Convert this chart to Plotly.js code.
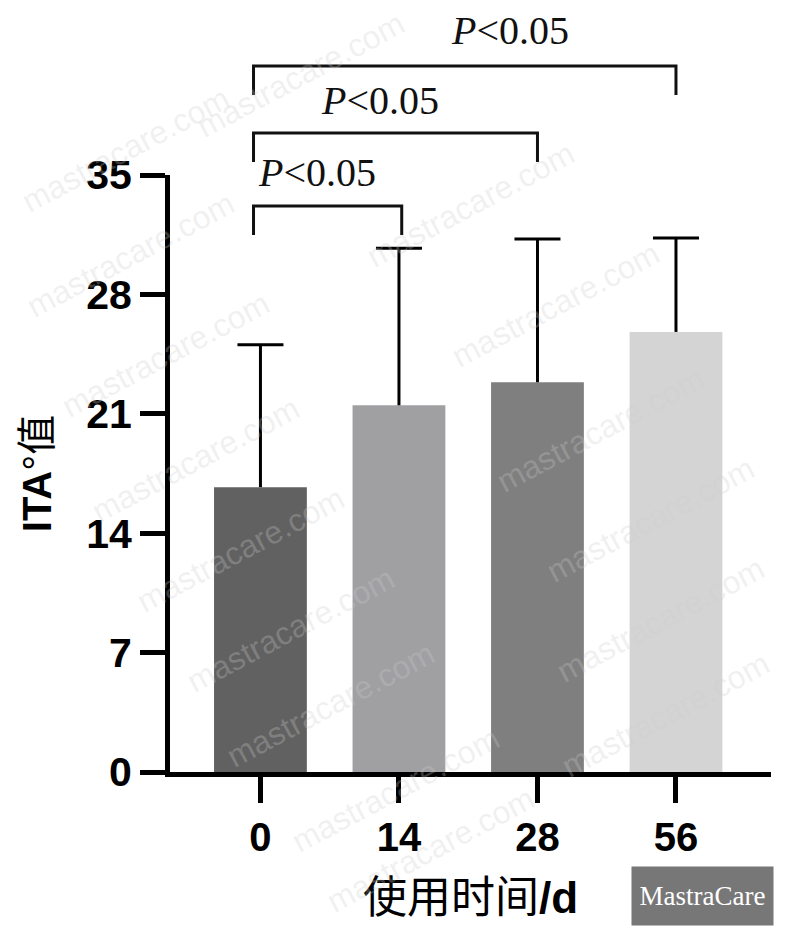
<!DOCTYPE html>
<html>
<head>
<meta charset="utf-8">
<script src="https://cdn.plot.ly/plotly-3.0.1.min.js"></script>
<style>
  html, body { margin: 0; padding: 0; background: #ffffff; }
  #chart { width: 788px; height: 940px; }
</style>
</head>
<body>
<div id="chart"></div>
<script>
// ITA° value by days of use (mean + SD)
const days = ['0', '14', '28', '56'];
const itaMean = [16.7, 21.5, 22.85, 25.8];
const itaSD = [8.35, 9.2, 8.4, 5.5];
const barColors = ['#616161', '#a0a0a3', '#7f7f7f', '#d4d4d4'];
const yTicks = [0, 7, 14, 21, 28, 35];

// significance brackets: [from group, to group, label]
const compareFrom = ['0', '0', '0'];
const compareTo = ['14', '28', '56'];
const compareText = ['P<0.05', 'P<0.05', 'P<0.05'];

// watermark text
const watermark = 'mastracare.com';

// plot-area geometry (pixels)
const W = 788, H = 940;
const mL = 170, mR = 17, mT = 175, mB = 168;
const plotW = W - mL - mR, plotH = H - mT - mB;
const pxToPaperX = px => (px - mL) / plotW;
const pxToPaperY = py => (H - mB - py) / plotH;

const catIndex = c => days.indexOf(c);

const bars = {
  type: 'bar',
  x: days,
  y: itaMean,
  width: 0.67,
  marker: { color: barColors, line: { width: 0 } },
  error_y: {
    type: 'data',
    symmetric: false,
    array: itaSD,
    arrayminus: itaSD.map(() => 0),
    color: '#000000',
    thickness: 3,
    width: 0
  },
  hoverinfo: 'skip',
  showlegend: false
};

// caps at the top of each SD whisker
const caps = {
  type: 'scatter',
  mode: 'markers',
  x: days,
  y: itaMean.map((m, i) => m + itaSD[i]),
  marker: { size: 1, opacity: 0 },
  error_y: {
    type: 'data',
    array: itaSD.map(() => 0),
    color: '#000000',
    thickness: 3,
    width: 23
  },
  hoverinfo: 'skip',
  showlegend: false
};

// bracket vertical levels (paper units): top line and leg bottoms
const bracketTop = [pxToPaperY(206), pxToPaperY(133), pxToPaperY(66)];
const bracketLeg = [pxToPaperY(235), pxToPaperY(162), pxToPaperY(95)];
const labelY = [pxToPaperY(173), pxToPaperY(100), pxToPaperY(30)];
const labelX = [-0.03, 0.42, 1.36];

const shapes = [];
const annotations = [];

// faint diagonal watermarks (drawn first so the labels sit above them)
const wmCenters = [
  [300, 75], [125, 150], [470, 205], [130, 255], [165, 355], [555, 305],
  [195, 460], [600, 430], [240, 550], [650, 520], [290, 630], [660, 620],
  [330, 705], [665, 715], [395, 790], [430, 850]
];
wmCenters.forEach(([cx, cy]) => {
  annotations.push({
    xref: 'paper', yref: 'paper', x: pxToPaperX(cx), y: pxToPaperY(cy),
    xanchor: 'center', yanchor: 'middle', showarrow: false,
    text: watermark, textangle: -28,
    font: { family: 'Liberation Sans, Arial, sans-serif', size: 32, color: 'rgba(205,205,205,0.28)' }
  });
});

for (let k = 0; k < compareFrom.length; k++) {
  const x0 = catIndex(compareFrom[k]) - 0.05;
  const x1 = catIndex(compareTo[k]) + (k === 0 ? 0.02 : 0);
  shapes.push({
    type: 'path', xref: 'x', yref: 'paper',
    path: `M ${x0} ${bracketLeg[k]} L ${x0} ${bracketTop[k]} L ${x1} ${bracketTop[k]} L ${x1} ${bracketLeg[k]}`,
    line: { color: '#111111', width: 3 }
  });
  const parts = compareText[k].split('<');
  annotations.push({
    xref: 'x', yref: 'paper', x: labelX[k], y: labelY[k],
    xanchor: 'left', yanchor: 'middle', showarrow: false,
    text: '<i>' + parts[0] + '</i>&lt;' + parts[1],
    font: { family: 'Liberation Serif, Times New Roman, serif', size: 40, color: '#111111' }
  });
}

// brand badge
annotations.push({
  xref: 'paper', yref: 'paper', x: pxToPaperX(702), y: pxToPaperY(896),
  xanchor: 'center', yanchor: 'middle', showarrow: false,
  text: 'MastraCare', width: 141, height: 58, bgcolor: '#777777', borderpad: 0,
  font: { family: 'Liberation Serif, Times New Roman, serif', size: 27, color: '#ffffff' }
});

const layout = {
  width: W, height: H,
  margin: { l: mL, r: mR, t: mT, b: mB, pad: 0 },
  paper_bgcolor: '#ffffff',
  plot_bgcolor: '#ffffff',
  showlegend: false,
  xaxis: {
    type: 'category',
    range: [-0.653, 3.686],
    showline: true, linecolor: '#000000', linewidth: 5,
    ticks: 'outside', ticklen: 26, tickwidth: 5, tickcolor: '#000000',
    showgrid: false, zeroline: false,
    tickfont: { family: 'Liberation Sans, Arial, sans-serif', size: 40, color: '#000000', weight: 700 },
    title: {
      text: '<span style="font-family:Noto Sans CJK SC">使用时间</span><b>/d</b>',
      font: { family: 'Liberation Sans, Arial, sans-serif', size: 44, color: '#000000' },
      standoff: 26
    },
    fixedrange: true
  },
  yaxis: {
    range: [0, 35],
    tickvals: yTicks,
    ticktext: yTicks.map(String),
    showline: true, linecolor: '#000000', linewidth: 5,
    ticks: 'outside', ticklen: 25, tickwidth: 5, tickcolor: '#000000',
    showgrid: false, zeroline: false,
    tickfont: { family: 'Liberation Sans, Arial, sans-serif', size: 41, color: '#000000', weight: 700 },
    title: {
      text: '<b>ITA</b>°<span style="font-family:Noto Sans CJK SC">值</span>',
      font: { family: 'Liberation Sans, Arial, sans-serif', size: 40, color: '#000000' },
      standoff: 24
    },
    fixedrange: true
  },
  shapes: shapes,
  annotations: annotations,
  bargap: 0.33
};

Plotly.newPlot('chart', [bars, caps], layout, { displayModeBar: false, staticPlot: true });
</script>
</body>
</html>
